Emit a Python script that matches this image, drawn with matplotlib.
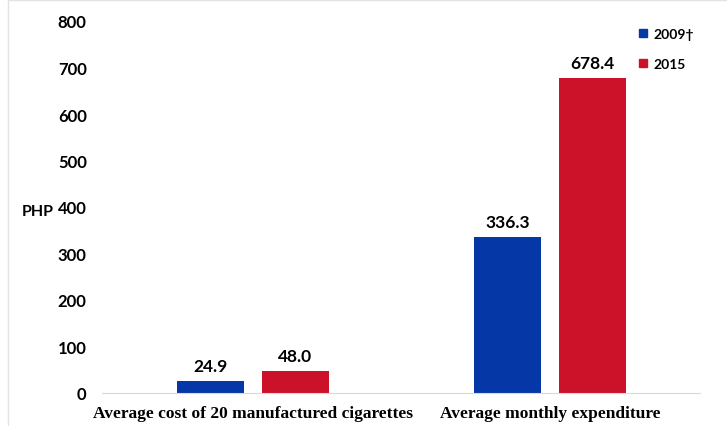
import matplotlib

matplotlib.use("Agg")
import matplotlib.pyplot as plt  # noqa: E402
from matplotlib.lines import Line2D  # noqa: E402
from matplotlib.patches import Rectangle  # noqa: E402

categories = ["Average cost of 20 manufactured cigarettes", "Average monthly expenditure"]
series_names = ["2009\u2020", "2015"]
values_2009 = [24.9, 336.3]
values_2015 = [48.0, 678.4]
yticks = [0, 100, 200, 300, 400, 500, 600, 700, 800]

BLUE = "#0537a6"
RED = "#cc1229"
SANS = ["Lato", "DejaVu Sans"]

fig = plt.figure(figsize=(7.27, 4.27), dpi=100)
ax = fig.add_axes([102 / 727, 33 / 427, 598 / 727, 372 / 427])

x = list(range(len(categories)))
w = 0.226
off = 0.143
b1 = ax.bar([i - off for i in x], values_2009, width=w, color=BLUE, label=series_names[0])
b2 = ax.bar([i + off for i in x], values_2015, width=w, color=RED, label=series_names[1])

for bars, vals in ((b1, values_2009), (b2, values_2015)):
    for rect, v in zip(bars, vals):
        ax.annotate(f"{v:.1f}", (rect.get_x() + rect.get_width() / 2, v),
                    xytext=(0, 5), textcoords="offset points", ha="center",
                    va="bottom", fontsize=12.5, fontweight="bold", family=SANS)

ax.set_xlim(-0.508, 1.505)
ax.set_ylim(0, 800)
ax.set_yticks(yticks)
ax.set_yticklabels([str(t) for t in yticks], fontsize=12, fontweight="bold", family=SANS)
ax.set_xticks(x)
ax.set_xticklabels(categories, fontsize=12.5, fontweight="bold", family="Liberation Serif")
ax.tick_params(length=0)
ax.tick_params(axis="y", pad=11)
ax.tick_params(axis="x", pad=9)
for s in ("top", "right", "left"):
    ax.spines[s].set_visible(False)
ax.spines["bottom"].set_color("#d9d9d9")
fig.text(22 / 727, 1 - 212 / 427, "PHP", ha="left", va="center", fontsize=11.5,
         fontweight="bold", family=SANS)

handles = [
    Line2D([0], [0], marker="s", color="none", markerfacecolor=BLUE,
           markeredgecolor=BLUE, markersize=6, label=series_names[0]),
    Line2D([0], [0], marker="s", color="none", markerfacecolor=RED,
           markeredgecolor=RED, markersize=6, label=series_names[1]),
]
ax.legend(handles=handles, loc="upper left", bbox_to_anchor=(0.875, 1.015),
          frameon=False, handlelength=0.8, handletextpad=0.3, labelspacing=1.3,
          prop={"family": SANS, "weight": "bold", "size": 10})

fig.patches.append(Rectangle((8 / 727, -0.01), 1.0, 1.008, transform=fig.transFigure,
                             fill=False, edgecolor="#e3e3e3", linewidth=1.0))

fig.savefig("out.png", dpi=100)
